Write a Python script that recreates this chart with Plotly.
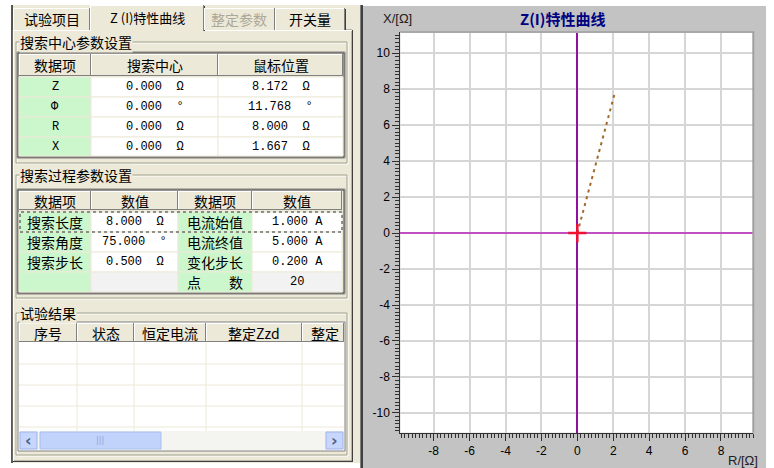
import plotly.graph_objects as go

W, H = 774, 468

# ---------------- data ----------------
tab_labels = ["试验项目", "Z (I)特性曲线", "整定参数", "开关量"]
center_title = "搜索中心参数设置"
center_header = ["数据项", "搜索中心", "鼠标位置"]
center_items = ["Z", "Φ", "R", "X"]
center_search = ["0.000  Ω", "0.000  °", "0.000  Ω", "0.000  Ω"]
center_mouse = ["8.172  Ω", "11.768  °", "8.000  Ω", "1.667  Ω"]

process_title = "搜索过程参数设置"
process_header = ["数据项", "数值", "数据项", "数值"]
process_items_left = ["搜索长度", "搜索角度", "搜索步长", ""]
process_values_left = ["8.000  Ω", "75.000  °", "0.500  Ω", ""]
process_items_right = ["电流始值", "电流终值", "变化步长", "点　　数"]
process_values_right = ["1.000 A", "5.000 A", "0.200 A", "20"]

result_title = "试验结果"
result_header = ["序号", "状态", "恒定电流", "整定Zzd", "整定"]

chart_title = "Z(I)特性曲线"
search_R = [0.0, 2.07]
search_X = [0.0, 7.73]
x_ticks = [-8, -6, -4, -2, 0, 2, 4, 6, 8]
x_tick_labels = ["-8", "-6", "-4", "-2", "0", "2", "4", "6", "8"]
y_ticks = [-10, -8, -6, -4, -2, 0, 2, 4, 6, 8, 10]
y_tick_labels = ["-10", "-8", "-6", "-4", "-2", "0", "2", "4", "6", "8", "10"]

# ---------------- helpers ----------------
BEIGE = "#ECE9D8"
GREEN = "#CCF7CC"
DARK = "#404040"
SHADOW = "#A0A090"
CJK = "Noto Sans CJK SC"
MONO = "Liberation Mono"

shapes = []
annos = []


def px(x):
    return x / W


def py(y):
    return 1 - y / H


def rect(x0, y0, x1, y1, fill=None, line=None, lw=1, dash=None, layer="above"):
    d = dict(type="rect", xref="paper", yref="paper", x0=px(x0), x1=px(x1),
             y0=py(y1), y1=py(y0), layer=layer,
             line=dict(width=lw if line else 0, color=line or "rgba(0,0,0,0)"))
    if dash:
        d["line"]["dash"] = dash
    if fill:
        d["fillcolor"] = fill
    shapes.append(d)


def hline(x0, x1, y, color, lw=1, layer="above"):
    shapes.append(dict(type="line", xref="paper", yref="paper", x0=px(x0), x1=px(x1),
                       y0=py(y), y1=py(y), layer=layer, line=dict(color=color, width=lw)))


def vline(x, y0, y1, color, lw=1, layer="above"):
    shapes.append(dict(type="line", xref="paper", yref="paper", x0=px(x), x1=px(x),
                       y0=py(y0), y1=py(y1), layer=layer, line=dict(color=color, width=lw)))


def text(x, y, s, size=14, color="black", family=CJK, anchor="center", bg=None, bold=False):
    if bold:
        s = "<b>" + s + "</b>"
    a = dict(x=px(x), y=py(y), xref="paper", yref="paper", text=s, showarrow=False,
             xanchor=anchor, yanchor="middle", font=dict(size=size, color=color, family=family))
    if bg:
        a["bgcolor"] = bg
        a["borderpad"] = 0
    annos.append(a)


def raised(x0, y0, x1, y1, fill=BEIGE):
    rect(x0, y0, x1, y1, fill=fill)
    hline(x0, x1, y0 + 0.5, "white")
    vline(x0 + 0.5, y0, y1, "white")
    hline(x0, x1, y1 - 0.5, "#808080")
    vline(x1 - 0.5, y0, y1, "#808080")


def groupbox(x0, y0, x1, y1, label):
    rect(x0 + 1, y0 + 1, x1 + 1, y1 + 1, line="white")
    rect(x0, y0, x1, y1, line=SHADOW)
    text(x0 + 3, y0, label, size=14, anchor="left", bg=BEIGE)


# ---------------- left panel ----------------
rect(12, 5, 361, 463, fill=BEIGE, layer="below")
vline(12, 5, 463, "#202020", 1.5)
# tab page
rect(13, 30, 352, 461, line="#808080")
hline(13, 352, 30.5, "white")
vline(13.5, 30, 461, "white")
vline(352.5, 30, 462, DARK)
hline(13, 353, 461.5, DARK)

# tabs
tab_geo = [(13, 8, 90, 30), (90, 5, 204, 31), (204, 8, 275, 30), (275, 8, 345, 30)]
for i, (lab, (x0, y0, x1, y1)) in enumerate(zip(tab_labels, tab_geo)):
    rect(x0, y0, x1, y1, fill=BEIGE)
    hline(x0, x1, y0 + 0.5, "white")
    vline(x0 + 0.5, y0, y1, "white")
    vline(x1 - 0.5, y0, y1, "#808080")
    vline(x1 + 0.5, y0 + 1, y1, DARK)
    col = "#ACA899" if i == 2 else "black"
    if i == 1:
        text((x0 + x1) / 2, 18, lab, size=13, color=col)
    else:
        text((x0 + x1) / 2, 19, lab, size=14, color=col)

# ---- group 1 ----
groupbox(16, 42, 347, 163, center_title)
rect(17, 52, 345, 158, line="#808080")
rect(18, 53, 344, 157, line=DARK)
c1 = [19, 91, 218, 343]
rows1 = [77, 97, 117, 137, 156]
for j in range(3):
    raised(c1[j], 54, c1[j + 1], 76)
    text((c1[j] + c1[j + 1]) / 2, 65, center_header[j], size=14)
for i in range(4):
    y0, y1 = rows1[i], rows1[i + 1]
    rect(c1[0], y0, c1[1], y1, fill=GREEN, line=BEIGE)
    rect(c1[1], y0, c1[2], y1, fill="white", line=BEIGE)
    rect(c1[2], y0, c1[3], y1, fill="white", line=BEIGE)
    ym = (y0 + y1) / 2
    text((c1[0] + c1[1]) / 2, ym, center_items[i], size=12, family=MONO)
    text((c1[1] + c1[2]) / 2, ym, center_search[i], size=12, family=MONO)
    text((c1[2] + c1[3]) / 2, ym, center_mouse[i], size=12, family=MONO)

# ---- group 2 ----
groupbox(16, 175, 347, 298, process_title)
rect(17, 189, 345, 294, line="#808080")
rect(18, 190, 344, 293, line=DARK)
c2 = [19, 91, 178, 252, 342]
rows2 = [212, 232, 252, 272, 292]
for j in range(4):
    raised(c2[j], 191, c2[j + 1], 210)
    text((c2[j] + c2[j + 1]) / 2, 200.5, process_header[j], size=14)
for i in range(4):
    y0, y1 = rows2[i], rows2[i + 1]
    ym = (y0 + y1) / 2
    last = i == 3
    rect(c2[0], y0, c2[1], y1, fill=GREEN, line=BEIGE)
    rect(c2[1], y0, c2[2], y1, fill="#F2F2F2" if last else "white", line=BEIGE)
    rect(c2[2], y0, c2[3], y1, fill=GREEN, line=BEIGE)
    rect(c2[3], y0, c2[4], y1, fill="#F2F2F2" if last else "white", line=BEIGE)
    if process_items_left[i]:
        text((c2[0] + c2[1]) / 2, ym, process_items_left[i], size=14)
    if process_values_left[i]:
        text((c2[1] + c2[2]) / 2, ym, process_values_left[i], size=12, family=MONO)
    text((c2[2] + c2[3]) / 2, ym, process_items_right[i], size=14)
    text((c2[3] + c2[4]) / 2, ym, process_values_right[i], size=12, family=MONO)
rect(20, 212, 342, 232, line="#303030", dash="dot")

# ---- group 3 ----
groupbox(16, 313, 347, 455, result_title)
rect(18, 322, 345, 451, fill="white", line="#808080")
c3 = [19, 77, 134, 206, 302, 345]
for j in range(5):
    raised(c3[j], 323, min(c3[j + 1], 344), 342)
    if j < 4:
        text((c3[j] + c3[j + 1]) / 2, 332.5, result_header[j], size=14)
    else:
        text(c3[j] + 7, 332.5, result_header[j], size=14, anchor="left")
for yy in [364, 385, 406, 427]:
    hline(19, 344, yy, BEIGE)
for xx in c3[1:-1]:
    vline(xx, 343, 431, BEIGE)
# scrollbar
rect(19, 431, 344, 450, fill="#F4F4F0")
rect(20, 432, 37, 449, fill="#C6D6FC", line="#9DB3EC")
text(28.5, 440.5, "<b>‹</b>", size=16, color="#4D6185", family="DejaVu Sans")
rect(40, 432, 161, 449, fill="#C1D3FB", line="#A9BEEF")
text(100, 440.5, "|||", size=8, color="#8DA3D8", family="DejaVu Sans")
rect(326, 432, 343, 449, fill="#C6D6FC", line="#9DB3EC")
text(334.5, 440.5, "<b>›</b>", size=16, color="#4D6185", family="DejaVu Sans")

# splitter
vline(360.5, 5, 468, "#808080", 1)
vline(362, 5, 468, DARK, 2)

# ---------------- right panel ----------------
PL, PR, PT, PB = 400.3, 753.3, 32.0, 432.7
rect(363, 6, 766, 468, fill="#C3C3C3", layer="below")
rect(PL, PT, PR, PB, fill="white", layer="below")
# plot frame top/right
hline(PL, PR + 1, PT, "#A8A8A8", 2)
vline(PR, PT, PB, "#A0A0A0", 2)

text(563, 19, chart_title, size=15, color="#000080", family=CJK, bold=True)
text(381, 19, "X/[Ω]", size=13, color="#202020", family="Liberation Sans", anchor="left")
text(726, 460, "R/[Ω]", size=13, color="#202020", family="Liberation Sans", anchor="left")

fig = go.Figure()
fig.add_trace(go.Scatter(x=search_R, y=search_X, mode="lines",
                         line=dict(color="#A0692A", width=2, dash="3px,4px"),
                         hoverinfo="skip"))
fig.add_trace(go.Scatter(x=[search_R[0]], y=[search_X[0]], mode="markers",
                         marker=dict(symbol="cross-thin", size=13,
                                     line=dict(color="#F01030", width=2.5)),
                         hoverinfo="skip"))

axis_common = dict(
    ticks="outside", ticklen=7, tickwidth=1, tickcolor="#303030",
    minor=dict(ticks="outside", ticklen=4, tickwidth=1, tickcolor="#303030",
               dtick=0.2, tick0=0, showgrid=False),
    showgrid=True, gridcolor="#D6D6D6", gridwidth=2,
    showline=True, linecolor="#303030", linewidth=1,
    tickfont=dict(family="Liberation Sans", size=12, color="black"),
    fixedrange=True,
)
fig.update_layout(
    width=W, height=H, margin=dict(l=0, r=0, t=0, b=0),
    paper_bgcolor="white", plot_bgcolor="rgba(0,0,0,0)",
    showlegend=False,
    xaxis=dict(domain=[px(PL), px(PR)], range=[-9.86, 9.8],
               tickvals=x_ticks, ticktext=x_tick_labels,
               zeroline=True, zerolinecolor="#9010A0", zerolinewidth=1.5,
               **axis_common),
    yaxis=dict(domain=[py(PB), py(PT)], range=[-11.1, 11.18],
               tickvals=y_ticks, ticktext=y_tick_labels,
               zeroline=True, zerolinecolor="#C050C0", zerolinewidth=2,
               **axis_common),
    shapes=shapes, annotations=annos,
)
fig.write_html("out.html", config=dict(displayModeBar=False),
               post_script="document.body.style.margin='0';document.body.style.overflow='hidden';")
